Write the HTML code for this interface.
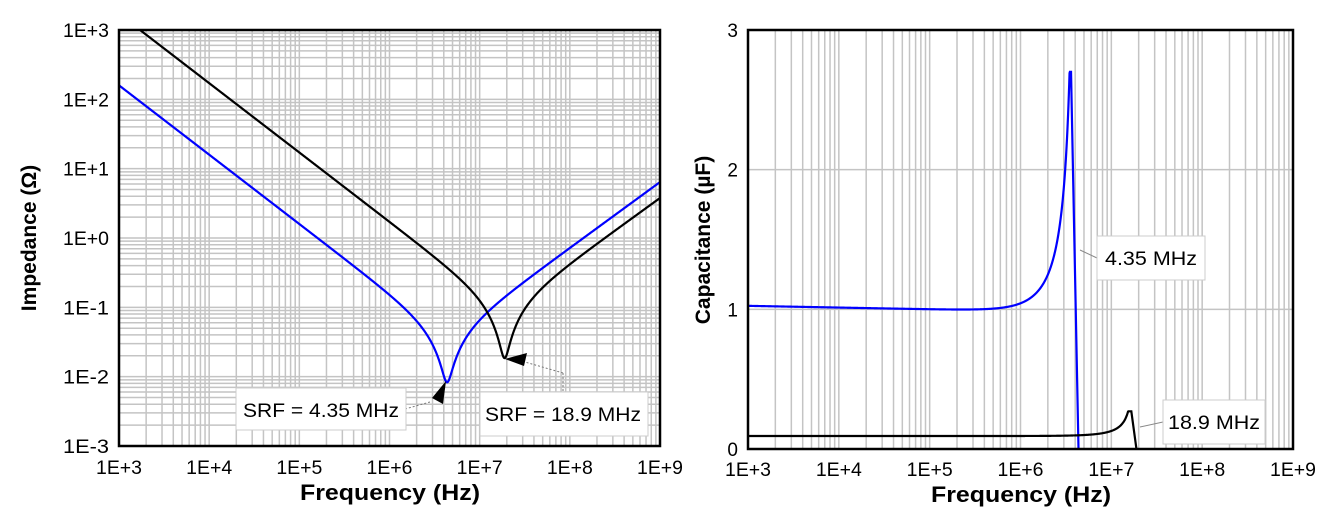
<!DOCTYPE html>
<html><head><meta charset="utf-8"><style>
html,body{margin:0;padding:0;background:#fff;}
svg{display:block;font-family:"Liberation Sans",Arial,sans-serif;}
</style></head><body>
<svg id="s" width="1324" height="518" xmlns="http://www.w3.org/2000/svg"></svg>
<script>
const S=document.getElementById('s');let h='';
const L={x0:119,x1:660,y0:30,y1:446};
const lx=f=>L.x0+(Math.log10(f)-3)*(L.x1-L.x0)/6;
const ly=z=>L.y1-(Math.log10(z)+3)*(L.y1-L.y0)/6;
const TL='textLength="46" lengthAdjust="spacingAndGlyphs"';
let g='';
for(let d=3;d<9;d++)for(let k=2;k<=9;k++){const x=lx(k*10**d);g+=`M${x} ${L.y0}V${L.y1}`;}
for(let d=-3;d<3;d++)for(let k=1;k<=9;k++){const y=ly(k*10**d);g+=`M${L.x0} ${y}H${L.x1}`;}
for(let d=3;d<=9;d++){const x=lx(10**d);g+=`M${x} ${L.y0}V${L.y1}`;}
h+=`<path d="${g}" stroke="#c4c4c4" stroke-width="1.5" fill="none"/>`;
function Z(f,C,Lh,R,srf,ex){const w=2*Math.PI*f;const Le=f>srf?Lh*Math.pow(f/srf,-ex):Lh;const X=w*Le-1/(w*C);return Math.sqrt(R*R+X*X);}
function path(fn,fx,fy){let p='';for(let i=0;i<=1500;i++){const f=10**(3+6*i/1500);let y=fy(fn(f));p+=(p?'L':'M')+fx(f).toFixed(2)+' '+y.toFixed(2);}return p;}
const Cb=1.0e-6,Lb=1/((2*Math.PI*4.35e6)**2*Cb),Rb=0.0083;
const Ck=0.093e-6,Lk=1/((2*Math.PI*18.9e6)**2*Ck),Rk=0.0185;
h+=`<clipPath id="cl"><rect x="${L.x0}" y="${L.y0}" width="${L.x1-L.x0}" height="${L.y1-L.y0}"/></clipPath>`;
h+=`<g clip-path="url(#cl)"><path d="${path(f=>Z(f,Cb,Lb,Rb,4.35e6,0.05),lx,ly)}" stroke="#0000ff" stroke-width="2.2" fill="none"/>`;
h+=`<path d="${path(f=>Z(f,Ck,Lk,Rk,18.9e6,0.06),lx,ly)}" stroke="#000" stroke-width="2.2" fill="none"/></g>`;
h+=`<rect x="${L.x0}" y="${L.y0}" width="${L.x1-L.x0}" height="${L.y1-L.y0}" fill="none" stroke="#000" stroke-width="2.5"/>`;
const ylab=['1E-3','1E-2','1E-1','1E+0','1E+1','1E+2','1E+3'];
ylab.forEach((t,i)=>{h+=`<text x="${L.x0-10}" y="${ly(10**(i-3))+7}" font-size="19" text-anchor="end" ${TL}>${t}</text>`;});
for(let d=3;d<=9;d++)h+=`<text x="${lx(10**d)}" y="474" font-size="19" text-anchor="middle" ${TL}>1E+${d}</text>`;
h+=`<text x="390" y="500" font-size="22" font-weight="bold" text-anchor="middle" textLength="180" lengthAdjust="spacingAndGlyphs">Frequency (Hz)</text>`;
h+=`<text transform="translate(36 238) rotate(-90)" font-size="21" font-weight="bold" text-anchor="middle">Impedance (Ω)</text>`;
h+=`<path d="M405 409L430 402 M563 373V393 M563 373L525 362" stroke="#777" stroke-width="1" stroke-dasharray="2 2" fill="none"/>`;
h+=`<polygon points="446,381 432,398 443,404" fill="#000"/>`;
h+=`<polygon points="505,359 527,353 524,366" fill="#000"/>`;
h+=`<rect x="236" y="388" width="170" height="42" fill="#fff" stroke="#ccc"/><text x="321" y="417" font-size="19" text-anchor="middle" textLength="156" lengthAdjust="spacingAndGlyphs">SRF = 4.35 MHz</text>`;
h+=`<rect x="480" y="392" width="168" height="44" fill="#fff" stroke="#ccc"/><text x="563" y="421" font-size="19" text-anchor="middle" textLength="156" lengthAdjust="spacingAndGlyphs">SRF = 18.9 MHz</text>`;
const R={x0:748,x1:1293,y0:30,y1:449};
const rx=f=>R.x0+(Math.log10(f)-3)*(R.x1-R.x0)/6;
const ry=c=>R.y1-c*(R.y1-R.y0)/3;
g='';
for(let d=3;d<9;d++)for(let k=2;k<=9;k++){const x=rx(k*10**d);g+=`M${x} ${R.y0}V${R.y1}`;}
for(let d=4;d<9;d++){const x=rx(10**d);g+=`M${x} ${R.y0}V${R.y1}`;}
g+=`M${R.x0} ${ry(1)}H${R.x1}M${R.x0} ${ry(2)}H${R.x1}`;
h+=`<path d="${g}" stroke="#c4c4c4" stroke-width="1.5" fill="none"/>`;
function capPath(C0,srf,peak,slope,fp){let p='';for(let i=0;i<=1500;i++){const f=10**(3+6*i/1500);if(f>fp)break;const r=f/srf;const base=C0*(1-slope*(Math.log10(f)-3));let c=base/(1-r*r);p+=(p?'L':'M')+rx(f).toFixed(2)+' '+ry(Math.min(c,peak)).toFixed(2);}
 p+=`L${rx(fp).toFixed(2)} ${ry(peak).toFixed(2)}L${rx(srf).toFixed(2)} ${ry(0)}`;return p;}
h+=`<path d="${capPath(1.025,4.35e6,2.7,0.012,3.6e6)}" stroke="#0000ff" stroke-width="2.2" fill="none"/>`;
h+=`<path d="${capPath(0.093,18.9e6,0.27,0.0,16.6e6)}" stroke="#000" stroke-width="2.2" fill="none"/>`;
h+=`<rect x="${R.x0}" y="${R.y0}" width="${R.x1-R.x0}" height="${R.y1-R.y0}" fill="none" stroke="#000" stroke-width="2.5"/>`;
[0,1,2,3].forEach(v=>{h+=`<text x="${R.x0-10}" y="${ry(v)+7}" font-size="19" text-anchor="end">${v}</text>`;});
for(let d=3;d<=9;d++)h+=`<text x="${rx(10**d)}" y="476" font-size="19" text-anchor="middle" ${TL}>1E+${d}</text>`;
h+=`<text x="1021" y="502" font-size="22" font-weight="bold" text-anchor="middle" textLength="180" lengthAdjust="spacingAndGlyphs">Frequency (Hz)</text>`;
h+=`<text transform="translate(710 240) rotate(-90)" font-size="21" font-weight="bold" text-anchor="middle">Capacitance (µF)</text>`;
h+=`<path d="M1080 250L1097 258 M1140 427L1163 422" stroke="#888" stroke-width="1" fill="none"/>`;
h+=`<rect x="1097" y="236" width="108" height="44" fill="#fff" stroke="#ccc"/><text x="1151" y="265" font-size="19" text-anchor="middle" textLength="92" lengthAdjust="spacingAndGlyphs">4.35 MHz</text>`;
h+=`<rect x="1163" y="400" width="102" height="44" fill="#fff" stroke="#ccc"/><text x="1214" y="429" font-size="19" text-anchor="middle" textLength="92" lengthAdjust="spacingAndGlyphs">18.9 MHz</text>`;
S.innerHTML=h;
</script>
</body></html>
